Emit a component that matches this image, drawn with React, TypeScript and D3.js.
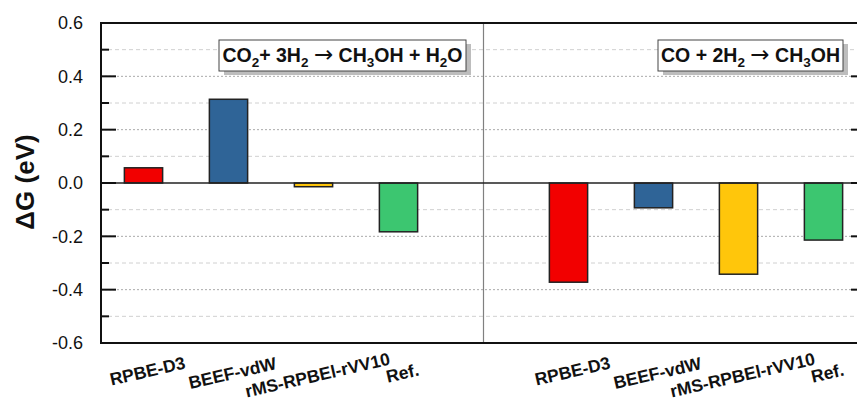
import { scaleBand, scaleLinear, range } from 'd3'

const methods = ['RPBE-D3', 'BEEF-vdW', 'rMS-RPBEl-rVV10', 'Ref.']
const co2Values = [0.057, 0.314, -0.014, -0.183]
const coValues = [-0.372, -0.093, -0.342, -0.214]
const barColors = ['#f20000', '#2f6497', '#ffc60b', '#3cc670']
const yTicks = [-0.6, -0.4, -0.2, 0.0, 0.2, 0.4, 0.6]
const labelY = [371, 373, 375, 373]

// reaction text pieces: [text, kind] where kind: n = normal, s = subscript, a = arrow
const reaction1: [string, string][] = [
  ['CO', 'n'], ['2', 's'], ['+ 3H', 'n'], ['2', 's'], [' ', 'n'], ['\u2192', 'a'],
  [' CH', 'n'], ['3', 's'], ['OH + H', 'n'], ['2', 's'], ['O', 'n'],
]
const reaction2: [string, string][] = [
  ['CO + 2H', 'n'], ['2', 's'], [' ', 'n'], ['\u2192', 'a'], [' CH', 'n'], ['3', 's'], ['OH', 'n'],
]

const W = 857
const H = 401
const margin = { top: 23, left: 101, right: -9, bottom: 58 }
const font = 'Arial, "Liberation Sans", Helvetica, sans-serif'

function Formula({ parts }: { parts: [string, string][] }) {
  let prevSub = false
  return (
    <>
      {parts.map(([t, kind], i) => {
        const isSub = kind === 's'
        const dy = isSub ? 5 : prevSub ? -5 : 0
        prevSub = isSub
        if (kind === 'a')
          return (
            <tspan key={i} dy={dy} fontFamily='"DejaVu Sans", sans-serif' fontWeight="normal" fontSize={23}>
              {t}
            </tspan>
          )
        return (
          <tspan key={i} dy={dy} fontSize={isSub ? 13.5 : undefined}>
            {t}
          </tspan>
        )
      })}
    </>
  )
}

export default function App() {
  const slots = [...methods.map((m) => 'a:' + m), 'sep', ...methods.map((m) => 'b:' + m)]
  const x = scaleBand<string>()
    .domain(slots)
    .range([margin.left, W - margin.right])
    .paddingInner(0.55)
    .paddingOuter(0.275)
  const y = scaleLinear().domain([-0.6, 0.6]).range([H - margin.bottom, margin.top])

  const x0 = margin.left
  const x1 = W - margin.right
  const y0 = margin.top
  const y1 = H - margin.bottom
  const bw = x.bandwidth()

  // grid every 0.1, except frame and zero line
  const grid = range(-5, 6)
    .map((d) => d / 10)
    .filter((d) => Math.abs(d) > 1e-6)
  const isMajor = (d: number) => Math.abs(Math.round(d * 10)) % 2 === 0

  const bars = [
    ...methods.map((m, i) => ({ key: 'a:' + m, label: m, v: co2Values[i], c: barColors[i], i })),
    ...methods.map((m, i) => ({ key: 'b:' + m, label: m, v: coValues[i], c: barColors[i], i })),
  ]

  const sepX = (x('sep') ?? 0) + bw / 2

  const boxes = [
    { cx: (x('a:rMS-RPBEl-rVV10')! + x('a:Ref.')!) / 2 + bw / 2 - 13.5, w: 247, parts: reaction1 },
    { cx: (x('b:rMS-RPBEl-rVV10')! + x('b:Ref.')!) / 2 + bw / 2 - 30.5, w: 185, parts: reaction2 },
  ]
  const boxTop = 40
  const boxH = 31

  return (
    <svg
      width={W}
      height={H}
      style={{ position: 'absolute', left: 0, top: 0, background: '#fff' }}
      fontFamily={font}
    >
      {/* grid lines */}
      {grid.map((d) => (
        <line
          key={'g' + d}
          x1={x0}
          x2={x1}
          y1={y(d)}
          y2={y(d)}
          stroke={isMajor(d) ? '#aaa' : '#d0d0d0'}
          strokeWidth={1}
          strokeDasharray={isMajor(d) ? '2 2' : '4 3'}
        />
      ))}

      {/* separator */}
      <line x1={sepX} x2={sepX} y1={y0} y2={y1} stroke="#808080" strokeWidth={1.2} />

      {/* bars */}
      {bars.map((b) => (
        <rect
          key={b.key}
          x={x(b.key)}
          y={y(Math.max(0, b.v))}
          width={bw}
          height={Math.abs(y(b.v) - y(0))}
          fill={b.c}
          stroke="#222"
          strokeWidth={1.5}
        />
      ))}

      {/* zero line */}
      <line x1={x0} x2={x1} y1={y(0)} y2={y(0)} stroke="#222" strokeWidth={1.5} />

      {/* frame */}
      <rect x={x0} y={y0} width={x1 - x0} height={y1 - y0} fill="none" stroke="#111" strokeWidth={2} />

      {/* ticks */}
      {range(-6, 7).map((k) => {
        const d = k / 10
        const len = k % 2 === 0 ? 15 : 8
        return (
          <g key={'t' + k}>
            <line x1={x0} x2={x0 + len} y1={y(d)} y2={y(d)} stroke="#111" strokeWidth={2} />
            <line x1={x1} x2={x1 - len} y1={y(d)} y2={y(d)} stroke="#111" strokeWidth={2} />
          </g>
        )
      })}

      {/* y tick labels */}
      {yTicks.map((d) => (
        <text key={'yl' + d} x={83} y={y(d)} dy="0.36em" textAnchor="end" fontSize={18} fill="#111">
          {d.toFixed(1)}
        </text>
      ))}

      {/* y title */}
      <text
        transform={`translate(25,182) rotate(-90)`}
        dy="0.36em"
        textAnchor="middle"
        fontSize={26}
        fontWeight="bold"
        fill="#111"
      >
        ΔG (eV)
      </text>

      {/* x labels */}
      {bars.map((b) => {
        const cx = (x(b.key) ?? 0) + bw / 2 + 4
        const cy = labelY[b.i]
        return (
          <text
            key={'xl' + b.key}
            transform={`translate(${cx},${cy}) rotate(-13)`}
            dy="0.35em"
            textAnchor="middle"
            fontSize={17.5}
            fontWeight="bold"
            fill="#111"
          >
            {b.label}
          </text>
        )
      })}

      {/* reaction boxes */}
      {boxes.map((bx, k) => (
        <g key={'box' + k}>
          <rect x={bx.cx - bx.w / 2 + 5} y={boxTop + 4} width={bx.w} height={boxH} fill="#bdbdbd" />
          <rect x={bx.cx - bx.w / 2} y={boxTop} width={bx.w} height={boxH} fill="#fff" stroke="#444" strokeWidth={1} />
          <text x={bx.cx} y={boxTop + 22} textAnchor="middle" fontSize={19.5} fontWeight="bold" fill="#111">
            <Formula parts={bx.parts} />
          </text>
        </g>
      ))}
    </svg>
  )
}
